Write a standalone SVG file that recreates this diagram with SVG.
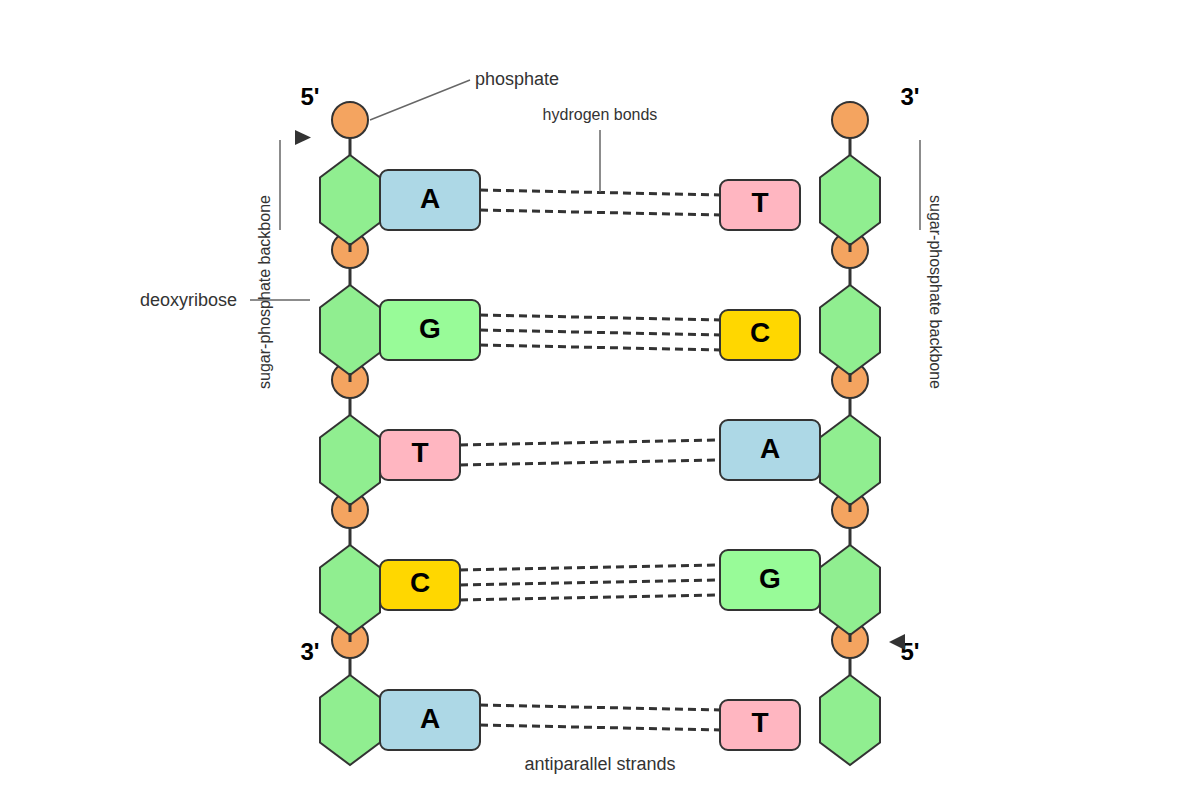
<svg xmlns="http://www.w3.org/2000/svg" width="1200" height="800" viewBox="0 0 1200 800">
<style>
.p{fill:#f4a460;stroke:#333;stroke-width:2}
.s{fill:#90ee90;stroke:#333;stroke-width:2}
.bb{stroke:#333;stroke-width:3}
.b{stroke:#333;stroke-width:2}
.A{fill:#add8e6}.T{fill:#ffb6c1}.G{fill:#98fb98}.C{fill:#ffd700}
.bl{font:bold 28px "Liberation Sans",Arial,sans-serif;fill:#000;text-anchor:middle}
.e{font:bold 24px "Liberation Sans",Arial,sans-serif;fill:#000;text-anchor:middle}
.l{font:18px "Liberation Sans",Arial,sans-serif;fill:#333}
.h{stroke:#333;stroke-width:3;stroke-dasharray:8,5;fill:none}
.ln{stroke:#666;stroke-width:1.5}
</style>
<defs>
<polygon id="hex" points="0,-45 30,-22.5 30,22.5 0,45 -30,22.5 -30,-22.5"/>
</defs>
<g id="backbone-left">
<circle class="p" cx="350" cy="120" r="18"/><circle class="p" cx="350" cy="250" r="18"/><circle class="p" cx="350" cy="380" r="18"/><circle class="p" cx="350" cy="510" r="18"/><circle class="p" cx="350" cy="640" r="18"/>
<use href="#hex" class="s" x="350" y="200"/><use href="#hex" class="s" x="350" y="330"/><use href="#hex" class="s" x="350" y="460"/><use href="#hex" class="s" x="350" y="590"/><use href="#hex" class="s" x="350" y="720"/>
<path class="bb" d="M350 138V155M350 243V252M350 268V285M350 373V382M350 398V415M350 503V512M350 528V545M350 633V642M350 658V675"/>
</g>
<g id="backbone-right">
<circle class="p" cx="850" cy="120" r="18"/><circle class="p" cx="850" cy="250" r="18"/><circle class="p" cx="850" cy="380" r="18"/><circle class="p" cx="850" cy="510" r="18"/><circle class="p" cx="850" cy="640" r="18"/>
<use href="#hex" class="s" x="850" y="200"/><use href="#hex" class="s" x="850" y="330"/><use href="#hex" class="s" x="850" y="460"/><use href="#hex" class="s" x="850" y="590"/><use href="#hex" class="s" x="850" y="720"/>
<path class="bb" d="M850 138V155M850 243V252M850 268V285M850 373V382M850 398V415M850 503V512M850 528V545M850 633V642M850 658V675"/>
</g>
<g id="connectors">
<path class="h" d="M480 190L720 195M480 210L720 215"/>
<path class="h" d="M480 315L720 320M480 330L720 335M480 345L720 350"/>
<path class="h" d="M460 445L720 440M460 465L720 460"/>
<path class="h" d="M460 570L720 565M460 585L720 580M460 600L720 595"/>
<path class="h" d="M480 705L720 710M480 725L720 730"/>
</g>
<g id="base-L1"><rect class="b A" x="380" y="170" width="100" height="60" rx="8"/><text class="bl" x="430" y="208">A</text></g>
<g id="base-L2"><rect class="b G" x="380" y="300" width="100" height="60" rx="8"/><text class="bl" x="430" y="338">G</text></g>
<g id="base-L3"><rect class="b T" x="380" y="430" width="80" height="50" rx="8"/><text class="bl" x="420" y="462">T</text></g>
<g id="base-L4"><rect class="b C" x="380" y="560" width="80" height="50" rx="8"/><text class="bl" x="420" y="592">C</text></g>
<g id="base-L5"><rect class="b A" x="380" y="690" width="100" height="60" rx="8"/><text class="bl" x="430" y="728">A</text></g>
<g id="base-R1"><rect class="b T" x="720" y="180" width="80" height="50" rx="8"/><text class="bl" x="760" y="212">T</text></g>
<g id="base-R2"><rect class="b C" x="720" y="310" width="80" height="50" rx="8"/><text class="bl" x="760" y="342">C</text></g>
<g id="base-R3"><rect class="b A" x="720" y="420" width="100" height="60" rx="8"/><text class="bl" x="770" y="458">A</text></g>
<g id="base-R4"><rect class="b G" x="720" y="550" width="100" height="60" rx="8"/><text class="bl" x="770" y="588">G</text></g>
<g id="base-R5"><rect class="b T" x="720" y="700" width="80" height="50" rx="8"/><text class="bl" x="760" y="732">T</text></g>
<g id="labels">
<text class="e" x="310" y="105">5'</text><text class="e" x="910" y="105">3'</text>
<text class="e" x="310" y="660">3'</text><text class="e" x="910" y="660">5'</text>
<polygon points="295,130 311,137.5 295,145" fill="#333"/>
<polygon points="905,634 889,642 905,650" fill="#333"/>
<line class="ln" x1="370" y1="120" x2="470" y2="80"/>
<text class="l" x="475" y="85">phosphate</text>
<line class="ln" x1="600" y1="130" x2="600" y2="192"/>
<text class="l" x="600" y="120" text-anchor="middle" style="font-size:16px">hydrogen bonds</text>
<line class="ln" x1="250" y1="300" x2="310" y2="300"/>
<text class="l" x="140" y="306">deoxyribose</text>
<line class="ln" x1="280" y1="140" x2="280" y2="230"/>
<text class="l" transform="translate(270,292) rotate(-90)" text-anchor="middle" style="font-size:16px">sugar-phosphate backbone</text>
<line class="ln" x1="920" y1="140" x2="920" y2="230"/>
<text class="l" transform="translate(930,292) rotate(90)" text-anchor="middle" style="font-size:16px">sugar-phosphate backbone</text>
<text class="l" x="600" y="770" text-anchor="middle" font-style="italic">antiparallel strands</text>
</g>
</svg>
